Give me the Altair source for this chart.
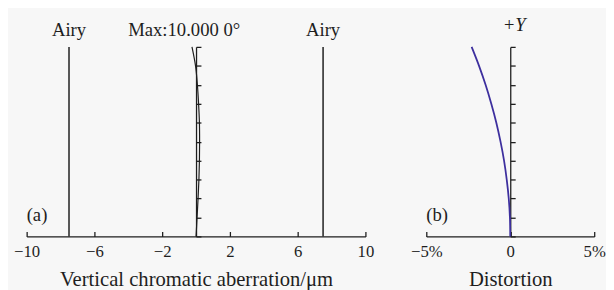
import altair as alt
import pandas as pd

# ---- data ----
field = [0.0, 0.1, 0.2, 0.3, 0.4, 0.5, 0.6, 0.7, 0.8, 0.9, 1.0]
chromatic = [0.0, 0.06, 0.12, 0.17, 0.20, 0.21, 0.20, 0.15, 0.08, -0.03, -0.24]
distortion = [0.0, -0.02, -0.09, -0.21, -0.37, -0.58, -0.83, -1.13, -1.47, -1.86, -2.30]
airy = [-7.5, 7.5]
airy_label = ["Airy", "Airy"]
ca_ticks = [-10, -6, -2, 2, 6, 10]
dist_ticks = [-5, 0, 5]

FONT = "Liberation Serif"
INK = "#1e1e1e"
BLUE = "#3d2f9e"
W_A, W_B, H = 345, 171, 193
ANN = 19

ca_df = pd.DataFrame({"field": field, "ca": chromatic})
dist_df = pd.DataFrame({"field": field, "dist": distortion})
airy_df = pd.DataFrame({"airy": airy, "label": airy_label, "lo": [0.0, 0.0], "hi": [1.0, 1.0]})

ys = alt.Scale(domain=[0, 1], nice=False, zero=False)


def yaxis(offset):
    return alt.Axis(orient="right", offset=offset, labels=False, title=None, values=field,
                    tickSize=5, grid=False, domainColor=INK, tickColor=INK,
                    domainWidth=1.3, tickWidth=1.3)


def xaxis_labels(values, title, expr=None):
    kw = dict(orient="bottom", values=values, ticks=False, domain=False, labelPadding=7,
              labelFlush=False, labelOverlap=False,
              title=title, titlePadding=10, grid=False, labelFont=FONT, labelFontSize=17,
              labelColor=INK, titleFont=FONT, titleFontSize=21, titleFontWeight="normal",
              titleColor=INK)
    if expr:
        kw["labelExpr"] = expr
    return alt.Axis(**kw)


def xaxis_ticks(values):
    return alt.Axis(orient="top", offset=-H, values=values, labels=False, title=None,
                    tickSize=5, grid=False, domainColor=INK, tickColor=INK,
                    domainWidth=1.3, tickWidth=1.3)


def label(text, x, y, dy=0, align="center", baseline="alphabetic", style="normal", xs=None, size=ANN):
    return alt.Chart(airy_df).transform_filter("datum.airy < 0").mark_text(
        text=text, align=align, baseline=baseline, dy=dy, font=FONT, fontSize=size,
        fontStyle=style, color=INK
    ).encode(x=alt.X(datum=x, scale=xs, axis=None), y=alt.Y(datum=y, scale=ys, axis=None))


# ---- panel (a) ----
xs_a = alt.Scale(domain=[-10, 10], nice=False, zero=False)
curve_a = alt.Chart(ca_df).mark_line(color=INK, strokeWidth=1.2, interpolate="catmull-rom").encode(
    x=alt.X("ca:Q", scale=xs_a, axis=xaxis_labels(ca_ticks, "Vertical chromatic aberration/μm")),
    y=alt.Y("field:Q", scale=ys, axis=yaxis(-W_A / 2)),
    order="field:Q",
)
rules_a = alt.Chart(airy_df).mark_rule(color=INK, strokeWidth=1.5).encode(
    x=alt.X("airy:Q", scale=xs_a, axis=xaxis_ticks(ca_ticks)),
    y=alt.Y("lo:Q", scale=ys, axis=None),
    y2="hi:Q",
)
airy_txt = alt.Chart(airy_df).mark_text(dy=-11, baseline="alphabetic", font=FONT, fontSize=ANN, color=INK).encode(
    x=alt.X("airy:Q", scale=xs_a, axis=None),
    y=alt.Y("hi:Q", scale=ys, axis=None),
    text="label:N",
)
max_txt = label("Max:10.000 0°", -0.7, 1, dy=-11, xs=xs_a)
a_txt = label("(a)", -10, 0.114, align="left", baseline="middle", xs=xs_a)

panel_a = alt.layer(curve_a, rules_a, airy_txt, max_txt, a_txt).resolve_axis(
    x="independent", y="independent").properties(width=W_A, height=H)

# ---- panel (b) ----
xs_b = alt.Scale(domain=[-5, 5], nice=False, zero=False)
curve_b = alt.Chart(dist_df).mark_line(color=BLUE, strokeWidth=1.8, interpolate="catmull-rom").encode(
    x=alt.X("dist:Q", scale=xs_b,
            axis=xaxis_labels(dist_ticks, "Distortion",
                              "datum.value == 0 ? '0' : format(datum.value, 'd') + '%'")),
    y=alt.Y("field:Q", scale=ys, axis=yaxis(-W_B / 2)),
    order="field:Q",
)
ticks_b = alt.Chart(dist_df).mark_rule(opacity=0).encode(
    x=alt.X("dist:Q", scale=xs_b, axis=xaxis_ticks(dist_ticks)),
    y=alt.Y("field:Q", scale=ys, axis=None),
)
y_txt = label("+Y", 0.23, 1, dy=-16, style="italic", xs=xs_b)
b_txt = label("(b)", -5, 0.114, align="left", baseline="middle", xs=xs_b)

panel_b = alt.layer(curve_b, ticks_b, y_txt, b_txt).resolve_axis(
    x="independent", y="independent").properties(width=W_B, height=H)

chart = alt.hconcat(panel_a, panel_b, spacing=62, bounds="flush").properties(
    background="#f7f7f7", padding={"left": 5, "top": 6, "right": 0, "bottom": 0}
).configure_view(stroke=None)

chart.save("out.html", embed_options={"renderer": "svg", "actions": False})
